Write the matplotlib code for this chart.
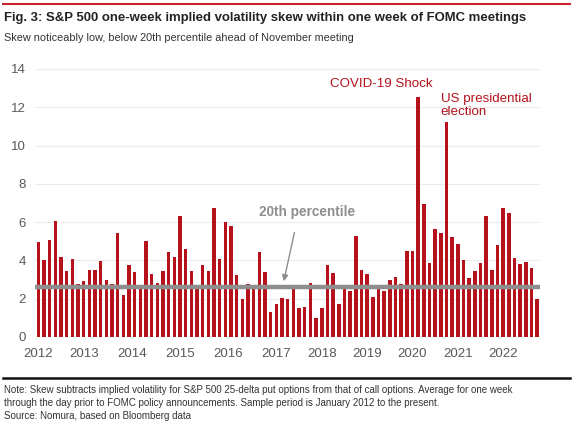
import matplotlib.pyplot as plt
import numpy as np
from matplotlib.lines import Line2D

plt.rcParams['font.family'] = ['Liberation Sans', 'DejaVu Sans']

# skew at each FOMC meeting, Jan 2012 - Nov 2022 (incl. 2020 emergency meetings)
skew = [4.95, 4.0, 5.05, 6.05, 4.2, 3.45, 4.1, 2.75,
        2.93, 3.5, 3.5, 3.95, 2.98, 2.75, 5.45, 2.18,
        3.76, 3.4, 2.55, 5.02, 3.3, 2.8, 3.47, 4.42,
        4.2, 6.32, 4.6, 3.47, 2.55, 3.74, 3.47, 6.72,
        4.1, 6.03, 5.78, 3.26, 1.97, 2.77, 2.56, 4.42,
        3.4, 1.29, 1.74, 2.05, 2.0, 2.54, 1.52, 1.55,
        2.8, 1.0, 1.52, 3.78, 3.33, 1.72, 2.56, 2.41,
        5.3, 3.5, 3.28, 2.07, 2.54, 2.41, 2.98, 3.15,
        2.75, 4.47, 4.49, 12.56, 6.93, 3.85, 5.64, 5.42,
        11.25, 5.24, 4.86, 4.02, 3.1, 3.46, 3.85, 6.32,
        3.5, 4.82, 6.72, 6.5, 4.14, 3.8, 3.94, 3.59, 1.99]
pct20 = 2.62
years = ['2012', '2013', '2014', '2015', '2016', '2017',
         '2018', '2019', '2020', '2021', '2022']
year_pos = [0, 8, 16.5, 25, 33.5, 42, 50, 58, 66, 74, 82]

red = '#b5121b'
grey_txt = '#595959'

fig = plt.figure(figsize=(5.76, 4.24), dpi=100)
ax = fig.add_axes([0.0616, 0.2052, 0.8757, 0.6321])

x = np.arange(len(skew))
ax.bar(x, skew, width=0.64, color=red, zorder=2)
ax.axhline(pct20, color='#8e8e8e', lw=3.2, zorder=3)

ax.set_xlim(-0.5, len(skew) - 0.5)
ax.set_ylim(0, 14)
ax.set_yticks(range(0, 15, 2))
ax.set_xticks(year_pos)
ax.set_xticklabels(years)
ax.tick_params(length=0, labelsize=9.5, colors=grey_txt, pad=8)
ax.tick_params(axis='y', pad=7)
ax.grid(axis='y', color='#ececec', lw=0.8, zorder=0)
for s in ax.spines.values():
    s.set_visible(False)

# annotations
ax.text(307, 212, '20th percentile', transform=None, ha='center', va='center',
        fontsize=9.8, fontweight='bold', color='#8e8e8e')
ax.annotate('', xy=(43.2, pct20 + 0.15), xytext=(45.3, 5.6),
            arrowprops=dict(arrowstyle='-|>', color='#8e8e8e', lw=1.0, mutation_scale=9))
ax.text(69.6, 13.2, 'COVID-19 Shock', ha='right', va='center', fontsize=9.6, color=red)
ax.text(71.0, 12.1, 'US presidential\nelection', ha='left', va='center', fontsize=9.6,
        color=red, linespacing=1.05)

# header / footer
fig.add_artist(Line2D([0.005, 0.99], [0.99, 0.99], color='#c8232c', lw=1.5))
fig.text(0.007, 0.958, 'Fig. 3: S&P 500 one-week implied volatility skew within one week of FOMC meetings',
         fontsize=9.45, fontweight='bold', color='#222222', va='center')
fig.text(0.007, 0.91, 'Skew noticeably low, below 20th percentile ahead of November meeting',
         fontsize=7.8, color='#333333', va='center')
fig.add_artist(Line2D([0.005, 0.99], [0.108, 0.108], color='#111111', lw=1.8))
fig.text(0.007, 0.065, 'Note: Skew subtracts implied volatility for S&P 500 25-delta put options from that of call options. '
         'Average for one week\nthrough the day prior to FOMC policy announcements. Sample period is January 2012 to the present.',
         fontsize=7.05, color='#333333', va='center', linespacing=1.35)
fig.text(0.007, 0.019, 'Source: Nomura, based on Bloomberg data', fontsize=7.05, color='#333333', va='center')

fig.savefig('out.png', dpi=100)
